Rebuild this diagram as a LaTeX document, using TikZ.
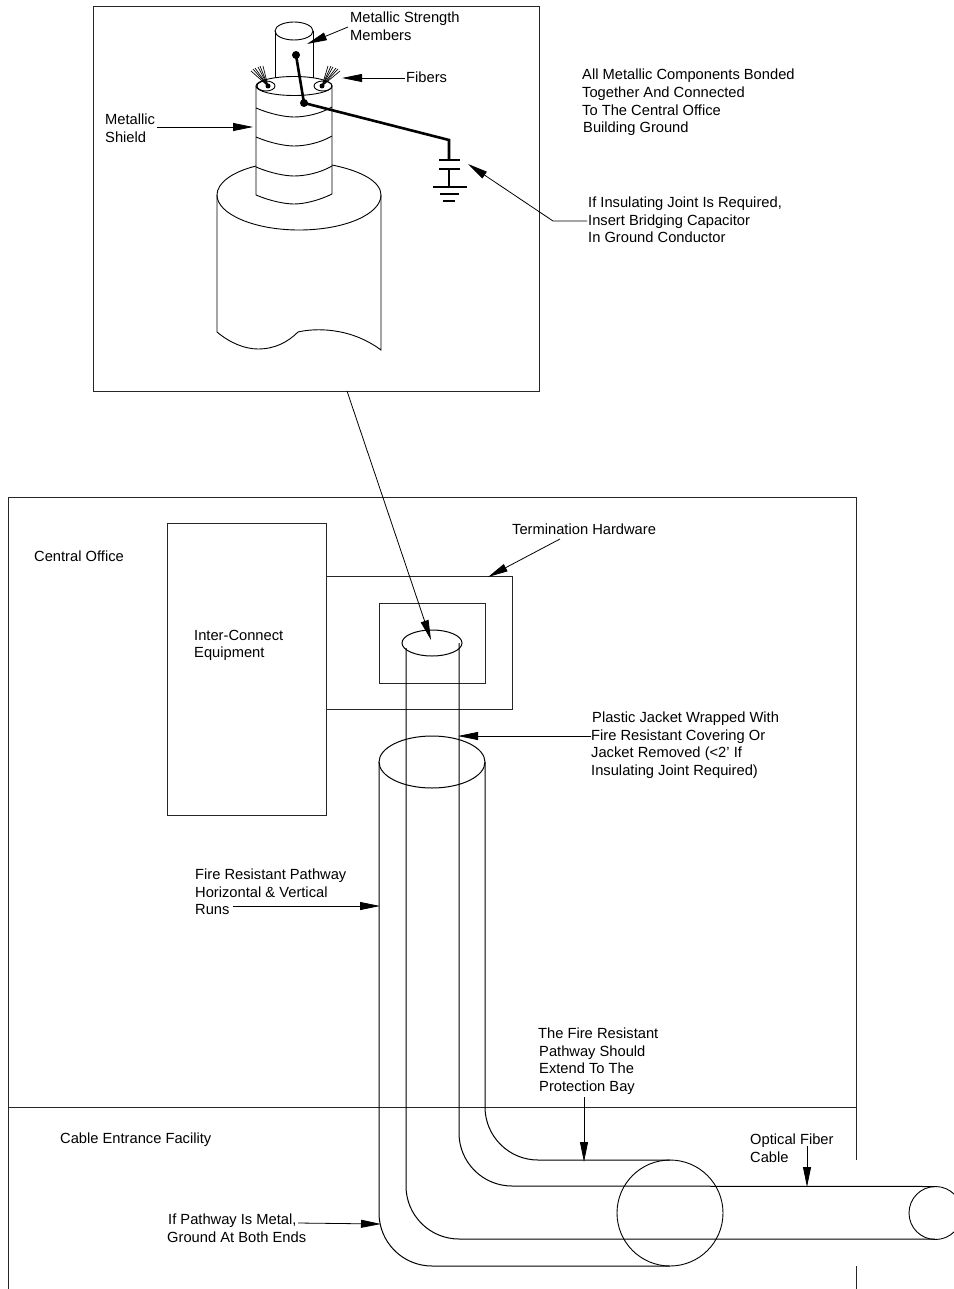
\documentclass[tikz,border=0pt]{standalone}
\usepackage{fontspec}
\setmainfont{Liberation Sans}
\usetikzlibrary{arrows.meta}
\tikzset{
  ln/.style={line width=1pt,black},
  boxln/.style={line width=1pt,black!85},
  thin ln/.style={line width=0.9pt,black},
  wire/.style={line width=2.6pt,black},
  leader/.style={line width=0.8pt,black,-{Triangle[length=20pt,width=8pt]}},
  lbl/.style={anchor=west,inner sep=0pt,align=left,font=\fontsize{14.7}{17.6}\selectfont,text=black},
  dotn/.style={circle,fill=black,inner sep=0pt,minimum size=8pt},
  fib/.style={line width=0.7pt,black}
}
\begin{document}
\begin{tikzpicture}[x=1pt,y=-1pt]
\useasboundingbox (0,0) rectangle (953,1289);
% Upper detail box
\node[draw=black!85,line width=1pt,minimum width=446pt,minimum height=385pt,anchor=north west,inner sep=0pt] (detail) at (93,6) {};
% large cable
\draw[thin ln] (256,166) .. controls (232,172) and (217,183) .. (217,195) .. controls (217,214) and (254,230) .. (299,230) .. controls (345,230) and (381,214) .. (381,195) .. controls (381,182) and (362,171) .. (332,165);
\draw[thin ln] (217,195) -- (217,332) .. controls (230,343) and (245,349) .. (258,349) .. controls (275,349) and (288,342) .. (298,332) .. controls (315,328) and (350,327) .. (381,350) -- (381,195);
% shield
\draw[thin ln] (256,86) -- (256,195) .. controls (270,201) and (285,204) .. (294,204) .. controls (305,204) and (320,200) .. (332,194) -- (332,86);
\draw[thin ln] (294,86) ellipse [x radius=38,y radius=9.5];
\foreach \ya in {108,137,167}{
  \draw[thin ln] (256,\ya) .. controls (270,\ya+6) and (285,\ya+9) .. (294,\ya+9) .. controls (305,\ya+9) and (320,\ya+6) .. (332,\ya-1);
}
% strength member
\draw[thin ln] (294,31) ellipse [x radius=19,y radius=9];
\draw[thin ln] (275,31) -- (275,78);
\draw[thin ln] (313,31) -- (313,78);
% fibre holes
\draw[thin ln] (266,86) ellipse [x radius=9,y radius=5];
\draw[thin ln] (323,86) ellipse [x radius=9,y radius=5];
\node[dotn,minimum size=5pt] (fl) at (268,86) {};
\node[dotn,minimum size=5pt] (fr) at (322,86) {};
\foreach \ex/\ey in {251/71,253/69,255/68,258/67,260/66,263/66}{
  \draw[fib] (fl.center) -- (\ex,\ey);
}
\foreach \ex/\ey in {340/71,338/69,336/68,333/67,331/66,328/66}{
  \draw[fib] (fr.center) -- (\ex,\ey);
}
% ground wire
\node[dotn] (wa) at (296,55) {};
\node[dotn] (wb) at (304,103) {};
\coordinate (wc) at (449,140);
\coordinate (cap1) at (449,160);
\coordinate (cap2) at (449,169);
\coordinate (gnd) at (449,187);
\draw[wire] (wa.center) -- (wb.center) -- (wc) -- (cap1);
\draw[wire] (cap2) -- (gnd);
\draw[wire] (439,160) -- (460,160);
\draw[wire] (439,169) -- (460,169);
\draw[wire] (433,187) -- (467,187);
\draw[wire] (440,194) -- (459,194);
\draw[wire] (443,201) -- (455,201);
% Building outline
\coordinate (bTL) at (8,497);
\coordinate (bTR) at (856,497);
\draw[boxln] (8,1289) -- (bTL) -- (bTR) -- (856,1160);
\draw[boxln] (856,1266) -- (856,1289);
\draw[boxln] (8,1107) -- (856,1107);
% Equipment
\node[draw=black!85,line width=1pt,minimum width=159pt,minimum height=292pt,anchor=north west,inner sep=0pt] (equip) at (167,523) {};
\node[draw=black!85,line width=1pt,minimum width=186pt,minimum height=133pt,anchor=north west,inner sep=0pt] (term) at (326,576) {};
\node[draw=black!85,line width=1pt,minimum width=106pt,minimum height=80pt,anchor=north west,inner sep=0pt] (inner) at (379,603) {};
% Cable and pathway
\draw[ln] (432,643) ellipse [x radius=30,y radius=13];
\draw[ln] (432,762) ellipse [x radius=53,y radius=26];
\draw[ln] (485,762) -- (485,1107) arc [start angle=180,end angle=90,radius=53] -- (670,1160);
\draw[ln] (459,643) -- (459,1133) arc [start angle=180,end angle=90,radius=53] -- (935,1186.5);
\draw[ln] (406,648) -- (406,1186) arc [start angle=180,end angle=90,radius=53] -- (935,1239);
\draw[ln] (379,762) -- (379,1213) arc [start angle=180,end angle=90,radius=53] -- (670,1266);
\draw[thin ln] (670,1213) circle [radius=53];
\draw[thin ln] (935.5,1213) circle [radius=26.5];
% Labels
\node[lbl] (t1) at (350,26.5) {Metallic Strength\\Members};
\node[lbl] (t2) at (406,77.5) {Fibers};
\node[lbl] (t3) at (105,128.5) {Metallic\\Shield};
\node[lbl] (t4) at (582,102.5) {All Metallic Components Bonded\\Together And Connected\\To The Central Office\\\hspace{1pt}Building Ground};
\node[lbl] (t5) at (588,220) {If Insulating Joint Is Required,\\Insert Bridging Capacitor\\In Ground Conductor};
\node[lbl] (t6) at (34,556.5) {Central Office};
\node[lbl] (t7) at (194,645.5) {Inter-Connect\\Equipment};
\node[lbl] (t8) at (512,529.5) {Termination Hardware};
\node[lbl] (t9) at (591,745) {\hspace{1pt}Plastic Jacket Wrapped With\\Fire Resistant Covering Or\\Jacket Removed (<2' If\\Insulating Joint Required)};
\node[lbl] (t10) at (195,892) {Fire Resistant Pathway\\Horizontal \& Vertical\\Runs};
\node[lbl] (t11) at (538,1061) {The Fire Resistant\\\hspace{1pt}Pathway Should\\\hspace{1pt}Extend To The\\\hspace{1pt}Protection Bay};
\node[lbl] (t12) at (750,1148.5) {Optical Fiber\\Cable};
\node[lbl] (t13) at (60,1140) {Cable Entrance Facility};
\node[lbl] (t14) at (167,1228.5) {\hspace{1pt}If Pathway Is Metal,\\Ground At Both Ends};
% Leaders
\coordinate (a1s) at (348,27); \coordinate (a1e) at (307,44);
\coordinate (a2s) at (405,78); \coordinate (a2e) at (342,78);
\coordinate (a3s) at (157,127); \coordinate (a3e) at (253,127);
\coordinate (a4s) at (587,221); \coordinate (a4m) at (553,221); \coordinate (a4e) at (468,164);
\coordinate (a5s) at (347,391); \coordinate (a5e) at (431,640);
\coordinate (a6s) at (560,539); \coordinate (a6e) at (488,577);
\coordinate (a7s) at (591,736); \coordinate (a7e) at (458,736);
\coordinate (a8s) at (233,906); \coordinate (a8e) at (380,906);
\coordinate (a9s) at (584,1097); \coordinate (a9e) at (584,1162);
\coordinate (a10s) at (807,1146); \coordinate (a10e) at (807,1187);
\coordinate (a11s) at (298,1223); \coordinate (a11e) at (381,1224);
\draw[leader] (a1s) -- (a1e);
\draw[leader] (a2s) -- (a2e);
\draw[leader] (a3s) -- (a3e);
\draw[leader] (a4s) -- (a4m) -- (a4e);
\draw[leader] (a5s) -- (a5e);
\draw[leader] (a6s) -- (a6e);
\draw[leader] (a7s) -- (a7e);
\draw[leader] (a8s) -- (a8e);
\draw[leader] (a9s) -- (a9e);
\draw[leader] (a10s) -- (a10e);
\draw[leader] (a11s) -- (a11e);
\end{tikzpicture}
\end{document}
